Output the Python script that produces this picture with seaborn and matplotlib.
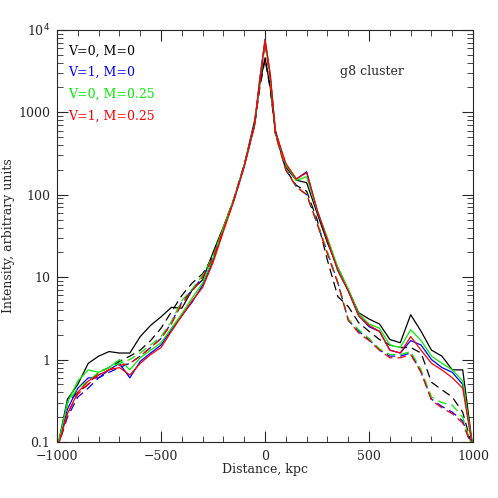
import numpy as np
import pandas as pd
import matplotlib
matplotlib.use("Agg")
import matplotlib.pyplot as plt
import seaborn as sns

# distance grid, kpc
x = [-1000, -950, -900, -850, -800, -750, -700, -650, -600, -550, -500, -450, -400, -350,
     -300, -250, -200, -150, -100, -50, -25, 0, 25, 50, 100, 150, 200, 250, 300, 350,
     400, 450, 500, 550, 600, 650, 700, 750, 800, 850, 900, 950, 1000]

# solid profiles
k_solid = [0.08, 0.33, 0.5, 0.9, 1.1, 1.25, 1.2, 1.2, 1.9, 2.6, 3.3, 4.3, 4.2, 7, 9.3, 20, 41, 87, 230,
           800, 2200, 4600, 2000, 600, 215, 150, 140, 60, 26, 13, 7, 3.7, 3.1, 2.7, 1.75, 1.6,
           3.5, 2.2, 1.3, 1.1, 0.75, 0.75, 0.08]
b_solid = [0.08, 0.25, 0.45, 0.6, 0.6, 0.75, 0.9, 0.6, 0.95, 1.2, 1.5, 2.3, 3.4, 5, 8, 16, 38, 85, 220,
           700, 2500, 7700, 2800, 560, 230, 155, 190, 65, 28, 12, 6.8, 3.4, 2.5, 2.2, 1.3, 1.2,
           1.7, 1.5, 1.0, 0.8, 0.7, 0.5, 0.08]
g_solid = [0.08, 0.3, 0.55, 0.75, 0.7, 0.8, 1.0, 0.75, 1.05, 1.3, 1.6, 2.4, 3.6, 5.6, 8.5, 17, 40, 88, 225,
           720, 2500, 7300, 2700, 560, 230, 150, 165, 65, 30, 13, 7.2, 3.6, 2.7, 2.4, 1.5, 1.4,
           2.3, 1.7, 1.1, 0.9, 0.75, 0.55, 0.08]
r_solid = [0.08, 0.22, 0.4, 0.55, 0.65, 0.75, 0.8, 0.65, 0.9, 1.15, 1.4, 2.2, 3.4, 5.2, 7.5, 15, 36, 85, 220,
           720, 2600, 7500, 2900, 580, 240, 155, 185, 66, 28, 12, 6.8, 3.4, 2.6, 2.2, 1.3, 1.2,
           1.9, 1.3, 0.9, 0.75, 0.6, 0.45, 0.08]

# dashed profiles
k_dash = [0.08, 0.3, 0.4, 0.5, 0.7, 0.8, 0.95, 1.1, 1.3, 1.7, 2.4, 3.8, 6, 8.5, 11, 18, 40, 90, 230,
          700, 2000, 4400, 1900, 560, 200, 130, 110, 50, 16, 5.8, 4.4, 2.8, 2.2, 1.75, 1.5, 1.4,
          1.4, 1.2, 0.53, 0.43, 0.35, 0.23, 0.08]
b_dash = [0.08, 0.2, 0.35, 0.45, 0.6, 0.7, 0.8, 0.9, 1.1, 1.4, 1.8, 2.8, 5, 7, 10, 17, 38, 88, 230,
          720, 2400, 7000, 2500, 540, 200, 125, 100, 45, 20, 8.6, 3, 2.2, 1.75, 1.3, 1.1, 1.1,
          1.2, 0.7, 0.33, 0.27, 0.23, 0.18, 0.08]
g_dash = [0.08, 0.3, 0.45, 0.55, 0.7, 0.8, 0.9, 1.0, 1.2, 1.5, 1.9, 2.9, 5.2, 7.2, 10.5, 18, 40, 90, 230,
          720, 2400, 6800, 2400, 540, 200, 125, 100, 46, 20, 8.6, 3.1, 2.3, 1.8, 1.35, 1.15, 1.15,
          1.25, 0.75, 0.35, 0.3, 0.28, 0.2, 0.08]
r_dash = [0.08, 0.22, 0.38, 0.5, 0.65, 0.75, 0.85, 0.9, 1.1, 1.4, 1.8, 2.7, 4.8, 6.8, 10, 17, 38, 86, 225,
          700, 2300, 7000, 2500, 540, 200, 125, 100, 45, 19, 8.4, 3, 2.1, 1.7, 1.3, 1.05, 1.05,
          1.15, 0.7, 0.32, 0.26, 0.22, 0.17, 0.08]

labels = ["V=0, M=0", "V=1, M=0", "V=0, M=0.25", "V=1, M=0.25"]
colors = ["black", "blue", "#00ee00", "red"]
solids = [k_solid, b_solid, g_solid, r_solid]
dashes = [k_dash, b_dash, g_dash, r_dash]

sns.set_style("ticks")
plt.rcParams["font.family"] = ["DejaVu Serif"]

fig = plt.figure(figsize=(4.98, 4.98), dpi=100)
ax = fig.add_axes([0.1145, 0.1125, 0.8355, 0.8275])

for c, ys, yd in zip(colors, solids, dashes):
    sns.lineplot(x=x, y=yd, ax=ax, color=c, lw=0.9, dashes=False)
    ax.lines[-1].set_dashes([7, 4])
    sns.lineplot(x=x, y=ys, ax=ax, color=c, lw=0.9)

ax.set_yscale("log")
ax.set_xlim(-1000, 1000)
ax.set_ylim(0.1, 1e4)
ax.set_yticks([0.1, 1, 10, 100, 1000, 1e4])
ax.set_yticklabels(["0.1", "1", "10", "100", "1000", r"10$^4$"])
ax.set_xticks([-1000, -500, 0, 500, 1000])
ax.set_xticklabels(["\u22121000", "\u2212500", "0", "500", "1000"])
ax.xaxis.set_minor_locator(matplotlib.ticker.MultipleLocator(100))
ax.tick_params(which="both", direction="in", top=True, right=True, labelsize=9)
ax.tick_params(which="major", length=8)
ax.tick_params(which="minor", length=4)
ax.tick_params(axis="x", pad=6)
ax.tick_params(axis="y", pad=5)
for s in ax.spines.values():
    s.set_linewidth(0.8)

ax.set_xlabel("Distance, kpc", fontsize=9, labelpad=0)
ax.set_ylabel("Intensity, arbitrary units", fontsize=9, labelpad=2)

for i, (lab, c) in enumerate(zip(labels, colors)):
    ax.text(0.026, 0.965 - i * 0.053, lab, color=c, fontsize=9, transform=ax.transAxes, va="top")
ax.text(0.68, 0.915, "g8 cluster", fontsize=9, transform=ax.transAxes, va="top")

fig.savefig("out.png", dpi=100)
